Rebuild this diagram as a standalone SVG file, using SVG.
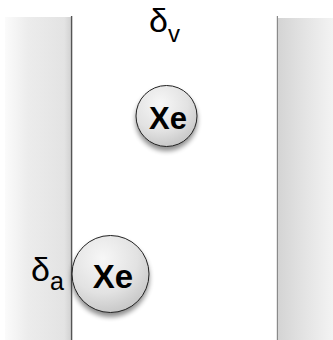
<svg xmlns="http://www.w3.org/2000/svg" width="333" height="340" viewBox="0 0 333 340">
<style>
.xe{font-family:"Liberation Sans",Arial,sans-serif;font-weight:bold;fill:#000;text-anchor:middle}
.lbl{font-family:"Liberation Sans",Arial,sans-serif;fill:#000}
.ball{fill:url(#ballg);stroke:#222;stroke-width:1;filter:url(#sh)}
</style>
<defs>
<linearGradient id="lw" x1="0" y1="0" x2="1" y2="0">
<stop offset="0" stop-color="#fbfbfb"/>
<stop offset="0.35" stop-color="#ececec"/>
<stop offset="0.9" stop-color="#e3e3e3"/>
<stop offset="1" stop-color="#d2d2d2"/>
</linearGradient>
<linearGradient id="rw" x1="0" y1="0" x2="1" y2="0">
<stop offset="0" stop-color="#d4d4d4"/>
<stop offset="0.5" stop-color="#e4e4e4"/>
<stop offset="1" stop-color="#f3f3f3"/>
</linearGradient>
<radialGradient id="ballg" cx="0.4" cy="0.3" r="0.75">
<stop offset="0" stop-color="#f7f7f7"/>
<stop offset="0.6" stop-color="#e2e2e2"/>
<stop offset="1" stop-color="#c4c4c4"/>
</radialGradient>
<filter id="sh" x="-30%" y="-30%" width="160%" height="170%">
<feGaussianBlur in="SourceAlpha" stdDeviation="2.5"/>
<feOffset dy="4" result="b"/>
<feComponentTransfer><feFuncA type="linear" slope="0.45"/></feComponentTransfer>
<feMerge><feMergeNode/><feMergeNode in="SourceGraphic"/></feMerge>
</filter>
</defs>
<g id="left-wall">
<rect x="5" y="17" width="66" height="323" fill="url(#lw)"/>
<line x1="71.6" y1="16" x2="71.6" y2="340" stroke="#555" stroke-width="1.4"/>
</g>
<g id="right-wall">
<rect x="278" y="18" width="55" height="322" fill="url(#rw)"/>
<line x1="277.4" y1="16" x2="277.4" y2="340" stroke="#8a8a8a" stroke-width="1.2"/>
</g>
<g id="label-dv">
<text class="lbl" x="149" y="32" font-size="34">δ<tspan font-size="24" dy="10">v</tspan></text>
</g>
<g id="xe-top">
<circle class="ball" cx="166.5" cy="116" r="30.5"/>
<text class="xe" x="168" y="129" font-size="31">Xe</text>
</g>
<g id="label-da">
<text class="lbl" x="31" y="281" font-size="34">δ<tspan font-size="25" dy="9">a</tspan></text>
</g>
<g id="xe-bottom">
<circle class="ball" cx="110.5" cy="274" r="38.5"/>
<text class="xe" x="113" y="288" font-size="33">Xe</text>
</g>
</svg>
